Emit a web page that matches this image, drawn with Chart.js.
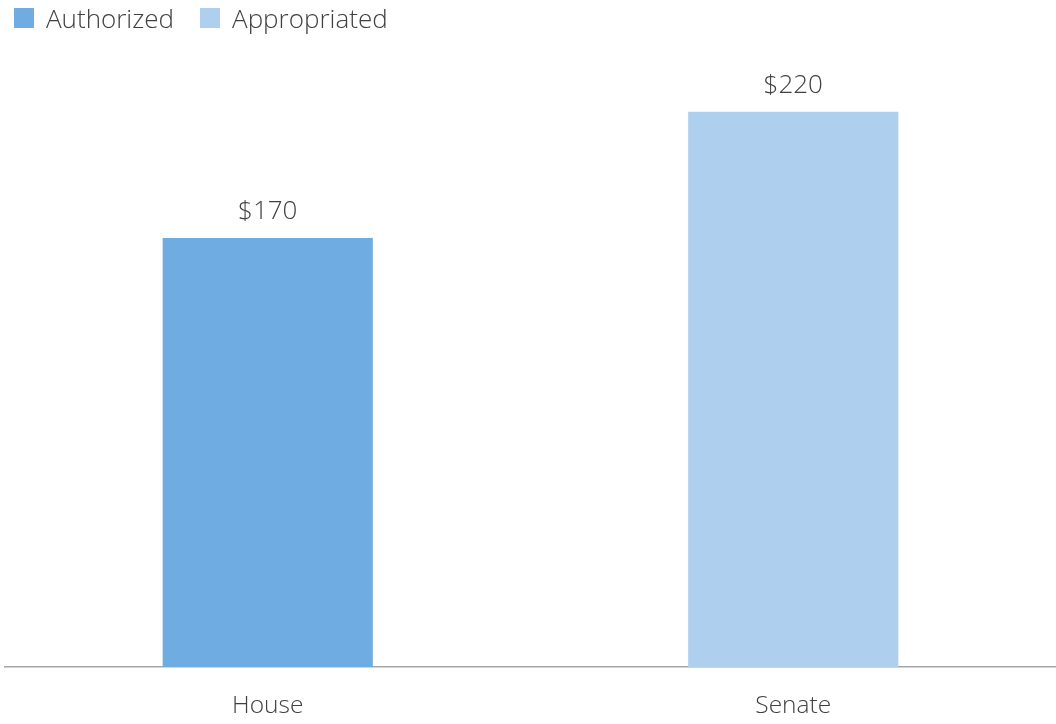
<!DOCTYPE html>
<html>
<head>
<meta charset="utf-8">
<script src="https://cdn.jsdelivr.net/npm/chart.js@4"></script>
<style>
  html, body { margin: 0; padding: 0; background: #fff; }
  #wrap { position: relative; width: 1056px; height: 724px; }
  #legend {
    position: absolute; left: 14px; top: 0; height: 36px;
    display: flex; align-items: center;
    font-family: "Open Sans", "Noto Sans", sans-serif; font-weight: 300;
    font-size: 26px; color: #404040;
  }
  .item { display: flex; align-items: center; margin-right: 26px; }
  .box { width: 20px; height: 20px; margin-right: 12px; }
</style>
</head>
<body>
<div id="wrap">
  <div id="legend"></div>
  <canvas id="chart"></canvas>
</div>
<script>
// Data
const categories = ['House', 'Senate'];
const authorized = [170, null];
const appropriated = [null, 220];
const seriesNames = ['Authorized', 'Appropriated'];
const seriesColors = ['#6FACE1', '#AFCFEE'];

const FONT = '"Open Sans", "Noto Sans", sans-serif';
const TEXT_COLOR = '#404040';

// HTML legend
document.getElementById('legend').innerHTML = seriesNames.map((name, i) => `
    <div class="item"><div class="box" style="background:${seriesColors[i]}"></div><span>${name}</span></div>
`).join('');

// Value labels above bars
const valueLabels = {
    id: 'valueLabels',
    afterDatasetsDraw(chart) {
        const ctx = chart.ctx;
        ctx.save();
        ctx.font = '300 26px ' + FONT;
        ctx.fillStyle = TEXT_COLOR;
        ctx.textAlign = 'center';
        ctx.textBaseline = 'bottom';
        chart.data.datasets.forEach((ds, i) => {
            chart.getDatasetMeta(i).data.forEach((bar, j) => {
                const v = ds.data[j];
                if (v == null) return;
                ctx.fillText('$' + v, bar.x, bar.y - 13);
            });
        });
        ctx.restore();
    }
};

const ctx = document.getElementById('chart').getContext('2d');
new Chart(ctx, {
    type: 'bar',
    data: {
        labels: categories,
        datasets: [
            { label: seriesNames[0], data: authorized, backgroundColor: seriesColors[0] },
            { label: seriesNames[1], data: appropriated, backgroundColor: seriesColors[1] }
        ]
    },
    options: {
        responsive: true,
        maintainAspectRatio: false,
        animation: false,
        layout: { padding: { left: 5, right: 0, top: 36, bottom: 0 } },
        datasets: {
            bar: { grouped: false, categoryPercentage: 0.4, barPercentage: 1 }
        },
        plugins: {
            tooltip: { enabled: false },
            legend: { display: false }
        },
        scales: {
            x: {
                grid: { display: false },
                border: { color: '#A6A6A6', width: 1.5 },
                ticks: {
                    color: TEXT_COLOR,
                    font: { family: FONT, size: 24.5, weight: '300' },
                    padding: 16
                },
                afterFit: scale => { scale.height = 57; }
            },
            y: {
                display: false,
                min: 0,
                max: 250
            }
        }
    },
    plugins: [valueLabels]
});
</script>
</body>
</html>
